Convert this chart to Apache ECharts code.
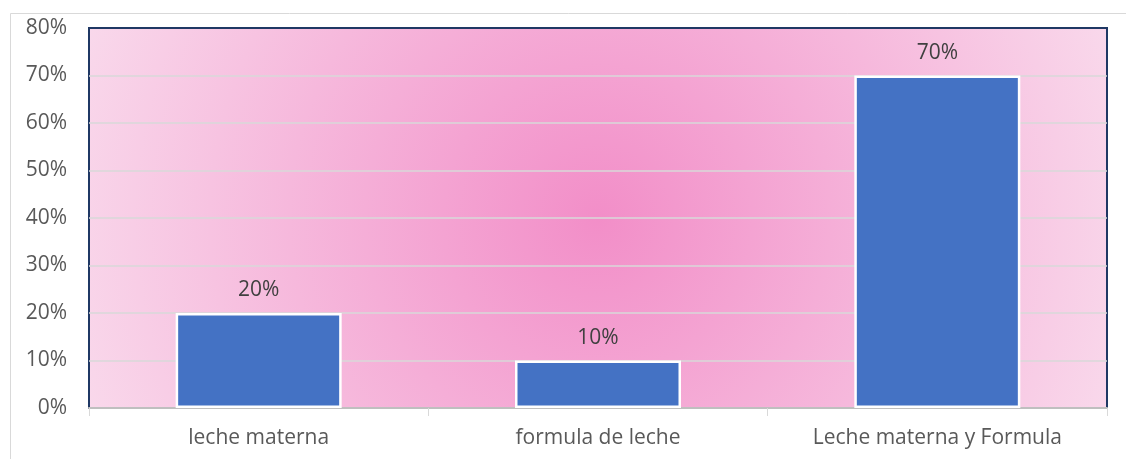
<!DOCTYPE html>
<html>
<head>
<meta charset="utf-8">
<script src="https://cdn.jsdelivr.net/npm/echarts@6/dist/echarts.min.js"></script>
<style>
  html, body { margin: 0; padding: 0; background: #ffffff; }
  #chart { width: 1126px; height: 459px; }
</style>
</head>
<body>
<div id="chart"></div>
<script>
// Tipo de alimentación
const categories = ['leche materna', 'formula de leche', 'Leche materna y Formula'];
const percentages = [20, 10, 70];
const yTicks = [0, 10, 20, 30, 40, 50, 60, 70, 80];

const FONT = '"Open Sans", "Noto Sans", sans-serif';

const chart = echarts.init(document.getElementById('chart'), null, { renderer: 'canvas' });

chart.setOption({
  animation: false,
  backgroundColor: '#ffffff',
  graphic: [
    {
      type: 'rect',
      left: 8,
      top: 11,
      shape: { width: 1140, height: 470 },
      style: { fill: 'none', stroke: '#D9D9D9', lineWidth: 1 },
      silent: true,
      z: -10
    }
  ],
  grid: {
    left: 89,
    right: 19,
    top: 28,
    bottom: 51,
    show: true,
    borderColor: '#1F3864',
    borderWidth: 2,
    backgroundColor: {
      type: 'radial',
      x: 0.5,
      y: 0.5,
      r: 1.42,
      colorStops: [
        { offset: 0, color: '#F28EC8' },
        { offset: 1, color: '#F9D8EB' }
      ]
    }
  },
  xAxis: {
    type: 'category',
    data: categories,
    axisLine: { show: true, lineStyle: { color: '#BFBFBF', width: 2 } },
    axisTick: { show: true, length: 8, lineStyle: { color: '#D9D9D9', width: 1 } },
    axisLabel: { color: '#595959', fontSize: 21, fontFamily: FONT, margin: 20 }
  },
  yAxis: {
    type: 'value',
    min: yTicks[0],
    max: yTicks[yTicks.length - 1],
    interval: 10,
    axisLine: { show: false },
    axisTick: { show: false },
    axisLabel: {
      color: '#595959',
      fontSize: 21,
      fontFamily: FONT,
      margin: 22,
      formatter: v => v + '%'
    },
    splitLine: {
      showMaxLine: false,
      showMinLine: false,
      lineStyle: { color: '#D9D9D9', width: 1.5 }
    }
  },
  series: [
    {
      type: 'bar',
      data: percentages,
      barWidth: 166,
      itemStyle: { color: '#4472C4', borderColor: '#ffffff', borderWidth: 2.5 },
      label: {
        show: true,
        position: 'top',
        distance: 12,
        color: '#404040',
        fontSize: 21,
        fontFamily: FONT,
        formatter: p => p.value + '%'
      }
    }
  ]
});
</script>
</body>
</html>
